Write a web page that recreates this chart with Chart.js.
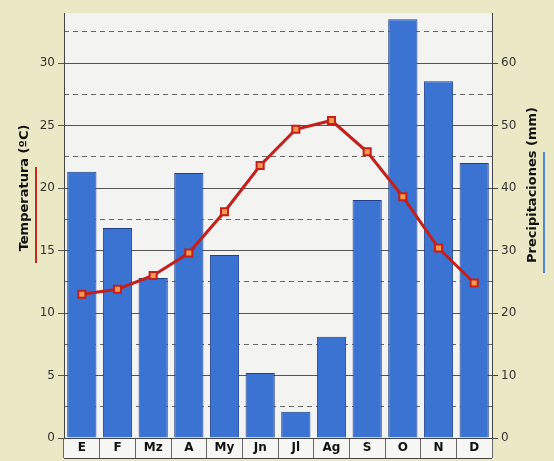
<!DOCTYPE html>
<html>
<head>
<meta charset="utf-8">
<script src="https://cdn.jsdelivr.net/npm/chart.js@4"></script>
<style>
  html, body { margin: 0; padding: 0; background: #ebe8c6; }
  #wrap { width: 554px; height: 461px; }
</style>
</head>
<body>
<div id="wrap"><canvas id="clima"></canvas></div>
<script>
var meses = ['E', 'F', 'Mz', 'A', 'My', 'Jn', 'Jl', 'Ag', 'S', 'O', 'N', 'D'];
var temperatura = [11.5, 11.9, 13.0, 14.8, 18.1, 21.8, 24.7, 25.4, 22.9, 19.3, 15.2, 12.4];
var precipitaciones = [42.6, 33.6, 25.6, 42.4, 29.3, 10.4, 4.2, 16.2, 38.1, 67.0, 57.1, 44.0];
var ticksDashed = [2.5, 7.5, 12.5, 17.5, 22.5, 27.5, 32.5];

var fuente = 'DejaVu Sans';

// fondo del papel, area del grafico y fila de meses
var fondo = {
    id: 'fondo',
    beforeDraw: function (chart) {
        var c = chart.ctx, a = chart.chartArea;
        c.save();
        c.fillStyle = '#ebe8c6';
        c.fillRect(0, 0, chart.width, chart.height);
        c.fillStyle = '#f3f3f1';
        c.fillRect(a.left, a.top, a.right - a.left, a.bottom - a.top);
        c.fillStyle = '#f6f6f4';
        c.fillRect(a.left, a.bottom, a.right - a.left, 20);
        c.strokeStyle = '#444';
        c.lineWidth = 1;
        c.beginPath();
        c.moveTo(a.left, a.bottom + 20.5);
        c.lineTo(a.right, a.bottom + 20.5);
        c.stroke();
        c.restore();
    }
};

// titulos de los ejes, leidos de abajo hacia arriba, con subrayado
var titulos = {
    id: 'titulos',
    afterDraw: function (chart) {
        var c = chart.ctx;
        c.save();
        c.font = 'bold 13px ' + fuente;
        c.fillStyle = '#111';
        c.textAlign = 'center';
        c.textBaseline = 'middle';
        [[25, 188, 'Temperatura (ºC)', '#c8281e', 167, 263],
         [533, 185, 'Precipitaciones (mm)', '#4a86d8', 152, 273]].forEach(function (t) {
            c.save();
            c.translate(t[0], t[1]);
            c.rotate(-Math.PI / 2);
            c.fillText(t[2], 0, 0);
            c.restore();
            c.strokeStyle = t[3];
            c.lineWidth = 2;
            c.beginPath();
            c.moveTo(t[0] + 11, t[4]);
            c.lineTo(t[0] + 11, t[5]);
            c.stroke();
        });
        c.restore();
    }
};

var ctx = document.getElementById('clima').getContext('2d');
var clima = new Chart(ctx, {
    data: {
        labels: meses,
        datasets: [{
            type: 'line',
            label: 'Temperatura',
            data: temperatura,
            yAxisID: 'yT',
            borderColor: '#c41f1a',
            borderWidth: 3,
            pointStyle: 'rect',
            pointRadius: 5,
            pointBackgroundColor: '#f39a4c',
            pointBorderColor: '#c41f1a',
            pointBorderWidth: 2,
            order: 0
        }, {
            type: 'bar',
            label: 'Precipitaciones',
            data: precipitaciones,
            yAxisID: 'yP',
            backgroundColor: '#3b73d3',
            borderColor: '#1f3f86',
            borderWidth: 1,
            barPercentage: 0.82,
            categoryPercentage: 1,
            order: 1
        }]
    },
    options: {
        responsive: true,
        maintainAspectRatio: false,
        animation: false,
        layout: { padding: { top: 13, left: 0, right: 0, bottom: 0 } },
        plugins: { legend: { display: false }, tooltip: { enabled: false } },
        scales: {
            x: {
                offset: true,
                grid: { offset: true, drawOnChartArea: false, tickLength: 20, color: '#666' },
                border: { color: '#444' },
                ticks: { padding: -17, color: '#111', font: { family: fuente, size: 12, weight: 'bold' } },
                afterFit: function (s) { s.height = 23; }
            },
            yT: {
                position: 'left',
                min: 0, max: 34,
                afterBuildTicks: function (s) {
                    s.ticks = s.ticks.filter(function (t) { return t.value % 5 === 0; });
                },
                ticks: { stepSize: 5, padding: 3, color: '#333', font: { family: fuente, size: 12 } },
                grid: { color: '#555', tickLength: 6 },
                border: { color: '#444' },
                afterFit: function (s) { s.width = 64; }
            },
            yD: {
                position: 'left',
                min: 0, max: 34,
                afterBuildTicks: function (s) {
                    s.ticks = ticksDashed.map(function (v) { return { value: v }; });
                },
                ticks: { display: false },
                grid: { color: '#666', drawTicks: false },
                border: { display: false, dash: [5, 4] },
                afterFit: function (s) { s.width = 0; }
            },
            yP: {
                position: 'right',
                min: 0, max: 68,
                afterBuildTicks: function (s) {
                    s.ticks = s.ticks.filter(function (t) { return t.value % 10 === 0; });
                },
                ticks: { stepSize: 10, padding: 3, color: '#333', font: { family: fuente, size: 12 } },
                grid: { drawOnChartArea: false, color: '#444', tickLength: 6 },
                border: { color: '#444' },
                afterFit: function (s) { s.width = 62; }
            }
        }
    },
    plugins: [fondo, titulos]
});
</script>
</body>
</html>
